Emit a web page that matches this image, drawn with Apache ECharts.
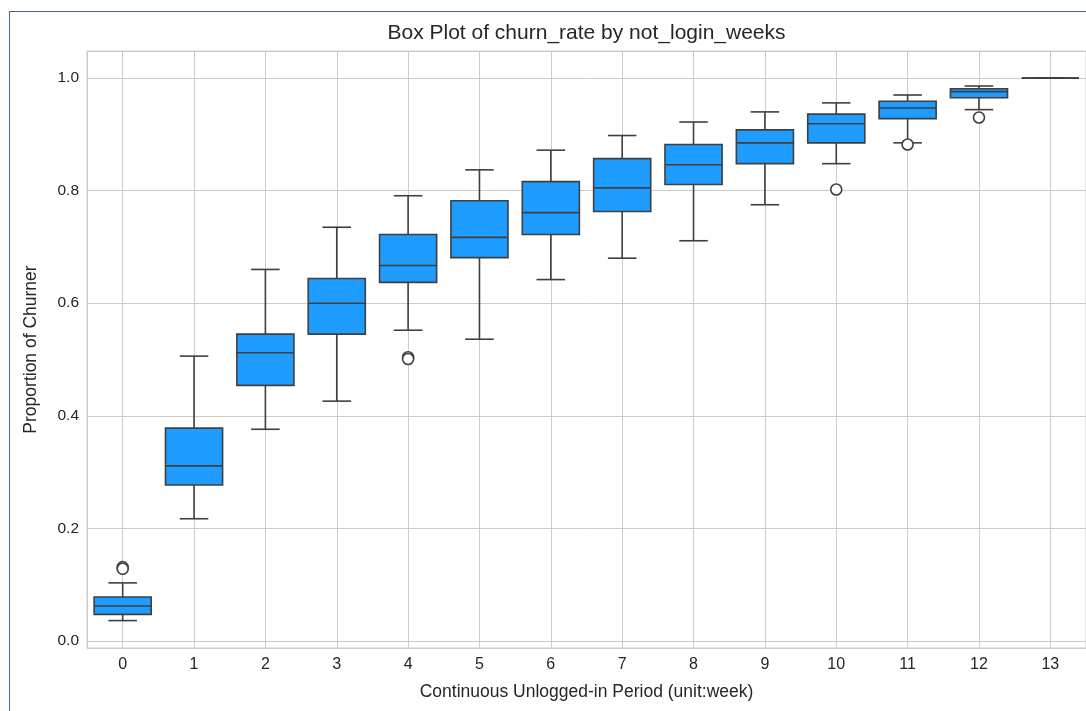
<!DOCTYPE html>
<html><head><meta charset="utf-8">
<script src="https://cdn.jsdelivr.net/npm/echarts@6/dist/echarts.min.js"></script>
<style>
html,body{margin:0;padding:0;background:#fff;overflow:hidden;}
#frame{position:absolute;left:9px;top:11px;width:1077px;height:700px;border-top:1.5px solid #4a6690;border-left:1.5px solid #4a6690;box-sizing:border-box;}
#chart{position:absolute;left:0;top:0;width:1086px;height:711px;}
</style></head><body>
<div id="frame"></div>
<div id="chart"></div>
<script>
const categories = ['0','1','2','3','4','5','6','7','8','9','10','11','12','13'];
const whiskerLow  = [0.036, 0.217, 0.376, 0.426, 0.552, 0.536, 0.642, 0.680, 0.711, 0.775, 0.848, 0.885, 0.944, 1.0];
const q1          = [0.047, 0.277, 0.454, 0.545, 0.637, 0.681, 0.722, 0.763, 0.811, 0.848, 0.885, 0.928, 0.965, 1.0];
const median      = [0.062, 0.311, 0.512, 0.600, 0.667, 0.717, 0.761, 0.805, 0.846, 0.885, 0.919, 0.947, 0.976, 1.0];
const q3          = [0.078, 0.378, 0.545, 0.644, 0.722, 0.782, 0.816, 0.857, 0.882, 0.908, 0.936, 0.959, 0.981, 1.0];
const whiskerHigh = [0.103, 0.506, 0.660, 0.735, 0.791, 0.837, 0.872, 0.898, 0.922, 0.940, 0.956, 0.970, 0.986, 1.0];
const outlierCats   = [0, 0, 4, 4, 10, 11, 12];
const outlierValues = [0.131, 0.128, 0.504, 0.501, 0.802, 0.882, 0.930];

const titleText = 'Box Plot of churn_rate by not_login_weeks';
const xName = 'Continuous Unlogged-in Period (unit:week)';
const yName = 'Proportion of Churner';

const FONT = '"Liberation Sans", Arial, sans-serif';
const TXT = '#262626';
const GRID = '#cccccc';
const BOX = '#1f9cff';
const EDGE = '#3f3f3f';
const yMin = -0.0127, yMax = 1.0482;

const boxData = categories.map((c, i) => [i, whiskerLow[i], q1[i], median[i], q3[i], whiskerHigh[i]]);
const outlierData = outlierCats.map((c, i) => [c, outlierValues[i]]);

function renderBox(params, api) {
  const x = api.value(0);
  const pLow = api.coord([x, api.value(1)]);
  const pQ1 = api.coord([x, api.value(2)]);
  const pMed = api.coord([x, api.value(3)]);
  const pQ3 = api.coord([x, api.value(4)]);
  const pHigh = api.coord([x, api.value(5)]);
  const band = api.size([1, 0])[0];
  const bw = band * 0.8, cw = band * 0.4;
  const cx = pMed[0];
  const ls = {stroke: EDGE, lineWidth: 1.6, fill: null};
  return {type: 'group', children: [
    {type: 'line', shape: {x1: cx, y1: pQ1[1], x2: cx, y2: pLow[1]}, style: ls},
    {type: 'line', shape: {x1: cx, y1: pQ3[1], x2: cx, y2: pHigh[1]}, style: ls},
    {type: 'line', shape: {x1: cx - cw / 2, y1: pLow[1], x2: cx + cw / 2, y2: pLow[1]}, style: ls},
    {type: 'line', shape: {x1: cx - cw / 2, y1: pHigh[1], x2: cx + cw / 2, y2: pHigh[1]}, style: ls},
    {type: 'rect', shape: {x: cx - bw / 2, y: pQ3[1], width: bw, height: pQ1[1] - pQ3[1]},
      style: {fill: BOX, stroke: EDGE, lineWidth: 1.6}},
    {type: 'line', shape: {x1: cx - bw / 2, y1: pMed[1], x2: cx + bw / 2, y2: pMed[1]}, style: ls}
  ]};
}

const chart = echarts.init(document.getElementById('chart'), null, {renderer: 'canvas'});
chart.setOption({
  animation: false,
  textStyle: {fontFamily: FONT},
  graphic: [{
    type: 'text', x: 586.5, y: 33,
    style: {text: titleText, fill: TXT, font: '21px ' + FONT, textAlign: 'center', textVerticalAlign: 'middle'}
  }],
  grid: {left: 87, right: -1, top: 51, bottom: 63, show: true, borderColor: GRID, borderWidth: 1, containLabel: false},
  xAxis: [{
    type: 'category', data: categories, boundaryGap: true, position: 'bottom',
    axisLine: {show: false}, axisTick: {show: false}, splitLine: {show: false},
    axisLabel: {color: TXT, fontSize: 16, margin: 9, fontFamily: FONT},
    name: xName, nameLocation: 'middle', nameGap: 35,
    nameTextStyle: {color: TXT, fontSize: 17.5, fontFamily: FONT}
  }, {
    type: 'value', min: -0.5, max: 13.5, splitNumber: 14, position: 'top',
    axisLine: {show: false}, axisTick: {show: false}, axisLabel: {show: false},
    splitLine: {show: true, lineStyle: {color: GRID, width: 1}}
  }],
  yAxis: {
    type: 'value', min: yMin, max: yMax, splitNumber: 5,
    axisLine: {show: false}, axisTick: {show: false},
    splitLine: {show: true, lineStyle: {color: GRID, width: 1}},
    axisLabel: {
      color: TXT, fontSize: 15.5, margin: 8, fontFamily: FONT,
      showMinLabel: false, showMaxLabel: false,
      formatter: v => (Math.abs(v * 5 - Math.round(v * 5)) < 1e-6 ? v.toFixed(1) : '')
    },
    name: yName, nameLocation: 'middle', nameGap: 47,
    nameTextStyle: {color: TXT, fontSize: 17.5, fontFamily: FONT}
  },
  series: [{
    type: 'custom', xAxisIndex: 0, yAxisIndex: 0, renderItem: renderBox,
    encode: {x: 0, y: [1, 2, 3, 4, 5]}, data: boxData, z: 3
  }, {
    type: 'scatter', xAxisIndex: 0, yAxisIndex: 0, data: outlierData, z: 4,
    symbol: 'circle', symbolSize: 11,
    itemStyle: {color: '#ffffff', borderColor: EDGE, borderWidth: 1.6, opacity: 1}
  }]
});
</script>
</body></html>
